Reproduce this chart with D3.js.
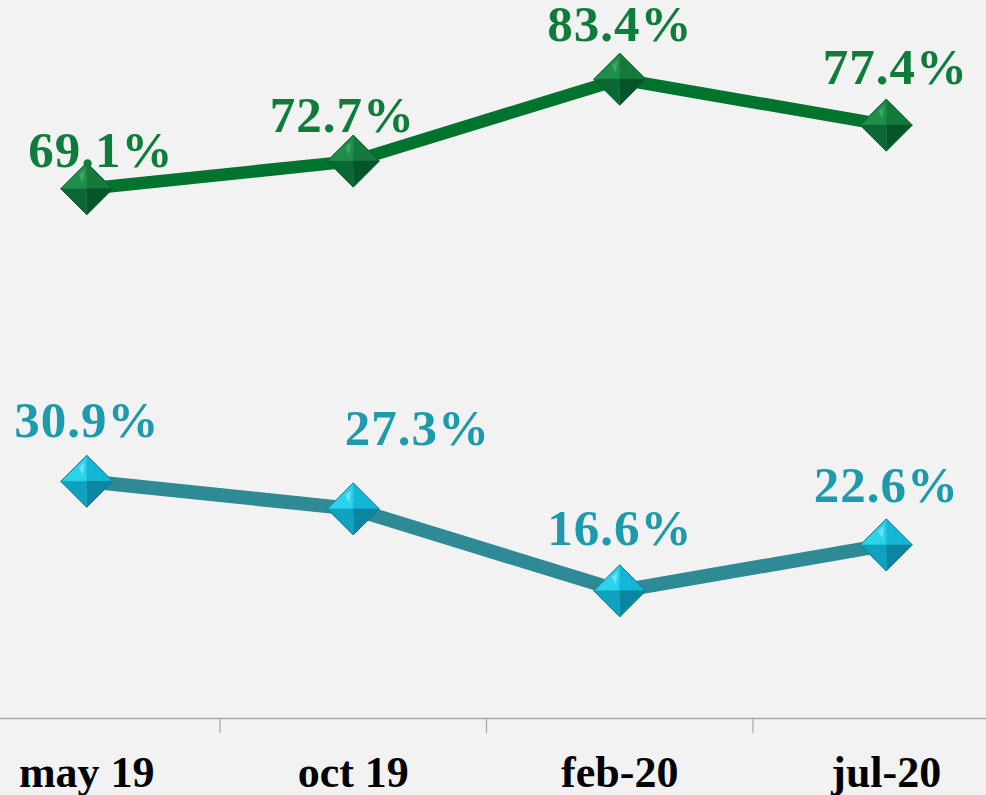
<!DOCTYPE html>
<html>
<head>
<meta charset="utf-8">
<script src="https://cdn.jsdelivr.net/npm/d3@7"></script>
<style>
  html, body { margin: 0; padding: 0; background: #f2f2f2; }
  svg { display: block; }
</style>
</head>
<body>
<div id="chart"></div>
<script>
// data
var periods = ["may 19", "oct 19", "feb-20", "jul-20"];
var greenValues = [69.1, 72.7, 83.4, 77.4];
var tealValues = [30.9, 27.3, 16.6, 22.6];

// label nudges (dx, dy from point) - hand placed like the original
var greenNudge = [[14, -22], [-11, -29], [0, -38], [9, -41]];
var tealNudge = [[0, -44], [64, -64], [0, -46], [0, -43]];

var width = 986, height = 795;

var svg = d3
  .select("#chart")
  .append("svg")
  .attr("width", width)
  .attr("height", height);

svg.append("rect")
  .attr("width", width)
  .attr("height", height)
  .attr("fill", "#f2f2f2");

var x = d3.scaleBand().domain(periods).range([-46.5, 1019.5]);
var y = d3.scaleLinear().domain([0, 100]).range([718, -48]);

function cx(d, i) {
  return x(periods[i]) + x.bandwidth() / 2;
}

// x axis
var axis = svg.append("g").attr("transform", "translate(0,718)");
axis.call(d3.axisBottom(x).tickSize(0).tickFormat(""));
axis.select(".domain").attr("stroke", "#a6a6a6").attr("stroke-width", 1.5);
axis.selectAll(".tick").remove();

var edges = periods.slice(1).map(function(p) { return x(p); });
axis.selectAll(".edge")
  .data(edges)
  .join("line")
  .attr("class", "edge")
  .attr("x1", function(d) { return d; })
  .attr("x2", function(d) { return d; })
  .attr("y1", 0)
  .attr("y2", 15)
  .attr("stroke", "#a6a6a6")
  .attr("stroke-width", 1.2);

svg.append("g")
  .selectAll("text")
  .data(periods)
  .join("text")
  .attr("x", function(d) { return x(d) + x.bandwidth() / 2; })
  .attr("y", 787)
  .attr("text-anchor", "middle")
  .style("font-family", "'Liberation Serif', 'DejaVu Serif', serif")
  .style("font-weight", "bold")
  .style("font-size", "44px")
  .attr("fill", "#000")
  .text(function(d) { return d; });

// bevelled diamond marker
function drawMarkers(values, shades, edgeCol) {
  var r = 26;
  var g = svg.append("g")
    .selectAll("g")
    .data(values)
    .join("g")
    .attr("transform", function(d, i) { return "translate(" + cx(d, i) + "," + y(d) + ")"; });
  var faces = [
    [[0, 0], [-r, 0], [0, -r]],
    [[0, 0], [0, -r], [r, 0]],
    [[0, 0], [r, 0], [0, r]],
    [[0, 0], [0, r], [-r, 0]]
  ];
  faces.forEach(function(f, k) {
    g.append("path")
      .attr("d", d3.line()(f) + "Z")
      .attr("fill", shades[k])
      .attr("stroke", shades[k])
      .attr("stroke-width", 0.5);
  });
  g.append("path")
    .attr("d", "M" + (-r) + ",0L0," + (-r) + "L" + r + ",0L0," + r + "Z")
    .attr("fill", "none")
    .attr("stroke", edgeCol)
    .attr("stroke-width", 1);
  // little highlight on top-left face
  g.append("path")
    .attr("d", "M-4,-6L-8,-14L-2,-19Z")
    .attr("fill", shades[4])
    .attr("opacity", 0.6);
}

function drawSeries(values, lineCol, lineW, labelCol, nudge, shades, edgeCol) {
  svg.append("path")
    .datum(values)
    .attr("d", d3.line().x(cx).y(function(d) { return y(d); }))
    .attr("fill", "none")
    .attr("stroke", lineCol)
    .attr("stroke-width", lineW)
    .attr("stroke-linejoin", "round");

  drawMarkers(values, shades, edgeCol);

  svg.append("g")
    .selectAll("text")
    .data(values)
    .join("text")
    .attr("x", function(d, i) { return cx(d, i) + nudge[i][0]; })
    .attr("y", function(d, i) { return y(d) + nudge[i][1]; })
    .attr("text-anchor", "middle")
    .style("font-family", "'Liberation Serif', 'DejaVu Serif', serif")
    .style("font-weight", "bold")
    .style("font-size", "51px")
    .style("letter-spacing", "1px")
    .attr("fill", labelCol)
    .text(function(d) { return d.toFixed(1) + "%"; });
}

drawSeries(greenValues, "#00732f", 12.5, "#0e7c3b", greenNudge,
  ["#1f8e4b", "#137a3c", "#06542a", "#0b6832", "#4cb877"], "#0b5e2d");
drawSeries(tealValues, "#2e8a94", 14, "#1d9aab", tealNudge,
  ["#2ad2ea", "#13b6d6", "#0a86a2", "#0fa2c0", "#8eeeff"], "#1d7484");
</script>
</body>
</html>
